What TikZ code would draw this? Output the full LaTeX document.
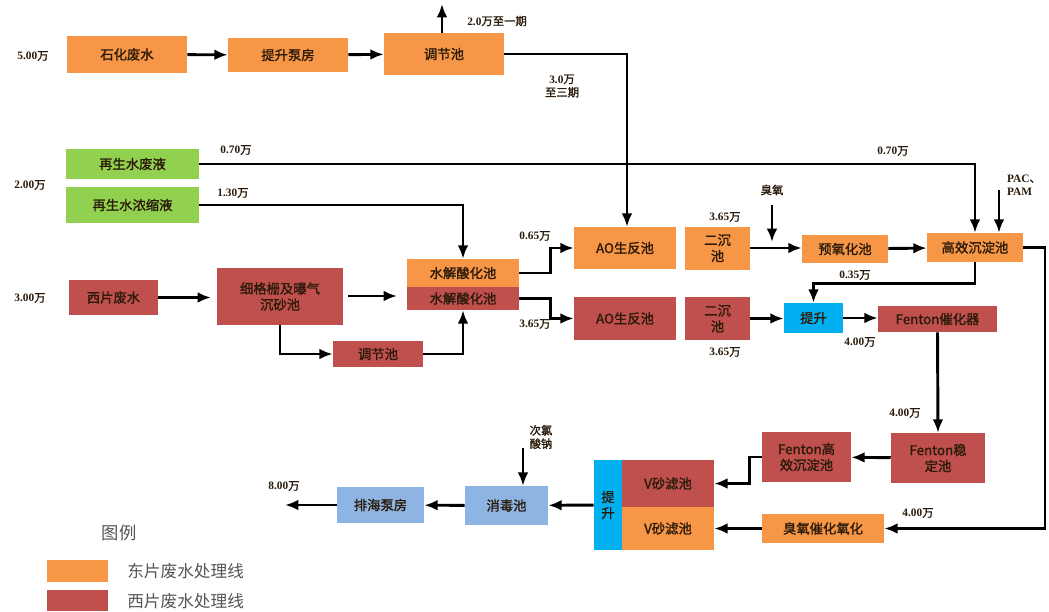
\documentclass[tikz,border=0pt]{standalone}
\usepackage{fontspec}
\setmainfont{Liberation Serif}
\newfontfamily\cjk[AutoFakeBold=1.4]{Noto Sans CJK SC}
\newfontfamily\cjkl{Noto Sans CJK SC}
\usetikzlibrary{arrows.meta,calc}
\definecolor{cor}{HTML}{F79646}
\definecolor{cre}{HTML}{C0504D}
\definecolor{cgr}{HTML}{92D050}
\definecolor{cbl}{HTML}{00B0F0}
\definecolor{clb}{HTML}{8DB4E2}
\definecolor{ctx}{HTML}{2A1A0A}
\definecolor{cgy}{HTML}{555555}
\newcommand\wan{{\cjk 万}}
\begin{document}
\begin{tikzpicture}[x=0.75pt,y=-0.75pt,
  box/.style={inner sep=0pt, font=\cjk\bfseries\fontsize{10}{12}\selectfont, text=ctx, align=center},
  sz/.style 2 args={minimum width=#1*0.75pt, minimum height=#2*0.75pt},
  ob/.style={box, fill=cor}, rb/.style={box, fill=cre}, gb/.style={box, fill=cgr},
  bb/.style={box, fill=cbl}, lb/.style={box, fill=clb},
  lab/.style={inner sep=0pt, font=\bfseries\fontsize{8.5}{10}\selectfont, text=ctx, align=center},
  leg/.style={inner sep=0pt, font=\cjkl\fontsize{12.5}{14}\selectfont, text=cgy, anchor=west},
  arr/.style={line width=2.2pt, -{Latex[length=10pt,width=8pt]}},
  ln/.style={line width=2.2pt}]
\useasboundingbox (0,0) rectangle (1049,611);

% ---- boxes ----
\node[ob, sz={120}{37}] (shihua) at (127,54.5) {石化废水};
\node[ob, sz={120}{34}] (tsbf) at (288,55) {提升泵房};
\node[ob, sz={120}{42}] (tjc) at (444,54) {调节池};
\node[gb, sz={133}{30}] (zs1) at (132.5,164) {再生水废液};
\node[gb, sz={133}{36}] (zs2) at (132.5,205) {再生水浓缩液};
\node[rb, sz={89}{35}] (xp) at (113.5,297.5) {西片废水};
\node[rb, sz={126}{57}] (xgs) at (280,296.5) {细格栅及曝气\\沉砂池};
\node[rb, sz={90}{26}] (tj2) at (378,354) {调节池};
\node[ob, sz={112}{28}] (sj1) at (463,273) {水解酸化池};
\node[rb, sz={112}{23}] (sj2) at (463,298.5) {水解酸化池};
\node[ob, sz={102}{42}] (ao1) at (625,248) {AO生反池};
\node[rb, sz={102}{43}] (ao2) at (625,318.5) {AO生反池};
\node[ob, sz={65}{43}] (ec1) at (717.5,248) {二沉\\池};
\node[rb, sz={65}{43}] (ec2) at (717.5,318.5) {二沉\\池};
\node[ob, sz={86}{28}] (yyh) at (845,249) {预氧化池};
\node[ob, sz={96}{29}] (gx) at (975,247.5) {高效沉淀池};
\node[bb, sz={59}{30}] (ts) at (813.5,318) {提升};
\node[rb, sz={119}{26}] (fc) at (937.5,319) {Fenton催化器};
\node[rb, sz={94}{50}] (fw) at (938,458) {Fenton稳\\定池};
\node[rb, sz={89}{50}] (fg) at (806.5,457) {Fenton高\\效沉淀池};
\node[rb, sz={92}{47}] (vr) at (668,483.5) {V砂滤池};
\node[ob, sz={92}{43}] (vo) at (668,528.5) {V砂滤池};
\node[bb, sz={28}{90}] (tsv) at (608,505) {提\\升};
\node[ob, sz={122}{29}] (cy) at (823,528.5) {臭氧催化氧化};
\node[lb, sz={83}{39}] (xd) at (506.5,505.5) {消毒池};
\node[lb, sz={87}{36}] (ph) at (380.5,505) {排海泵房};

% ---- labels ----
\node[lab] (l1) at (33,56) {5.00\wan};
\node[lab] (l2) at (497,21) {2.0\wan{\cjk 至一期}};
\node[lab] (l3) at (562,86) {3.0\wan\\{\cjk 至三期}};
\node[lab] (l4) at (30,185) {2.00\wan};
\node[lab] (l5) at (236,150) {0.70\wan};
\node[lab] (l6) at (233,193) {1.30\wan};
\node[lab] (l7) at (30,298) {3.00\wan};
\node[lab] (l8) at (535,236) {0.65\wan};
\node[lab] (l9) at (535,324) {3.65\wan};
\node[lab] (l10) at (725,217) {3.65\wan};
\node[lab] (l11) at (725,352) {3.65\wan};
\node[lab] (l12) at (893,151) {0.70\wan};
\node[lab] (l13) at (855,275) {0.35\wan};
\node[lab] (l14) at (860,342) {4.00\wan};
\node[lab] (l15) at (905,413) {4.00\wan};
\node[lab] (l16) at (918,513) {4.00\wan};
\node[lab] (l17) at (284,486) {8.00\wan};
\node[lab] (chy) at (772,190) {\cjk 臭氧};
\node[lab, align=left] (pac) at (1024,185) {PAC{\cjk 、}\\PAM};
\node[lab] (cl) at (541,437) {\cjk 次氯\\\cjk 酸钠};

% ---- free ends ----
\coordinate (up1) at (442,4);
\coordinate (g1) at (397,296);
\coordinate (g0) at (211,297.5);
\coordinate (chyend) at (772,242);
\coordinate (chys) at (772,205);
\coordinate (pacs) at (999,190);
\coordinate (rx) at (1045,0);
\coordinate (cls) at (523,448);
\coordinate (out) at (285,505);

% ---- connectors ----
\draw[arr] (shihua) -- (tsbf);
\draw[arr] (tsbf) -- (tjc);
\draw[arr] (tjc.north -| up1) -- (up1);
\draw[arr] (tjc.east) -| ($(ao1.north)+(2,0)$);
\draw[arr] (zs1.east) -| (gx.north);
\draw[arr] (zs2.east) -| (sj1.north);
\draw[arr] (xp) -- (g0);
\draw[arr] (xgs.east |- g1) ++(5,0) -- (g1);
\draw[arr] (xgs.south) |- (tj2.west);
\draw[arr] (tj2.east) -| (sj2.south);
\draw[arr] (sj1.east) -- ++(31,0) |- (ao1.west);
\draw[arr] (sj2.east) -- ++(31,0) |- (ao2.west);
\draw[arr] (ec1.east) -- (ec1.east -| yyh.west);
\draw[arr] (chys) -- (chyend);
\draw[arr] (yyh) -- (gx);
\draw[arr] (pacs) -- (pacs |- gx.north);
\draw[arr] (gx.south) -- ++(0,21) -| (ts.north);
\draw[arr] (gx.east) -- (gx.east -| rx) |- (cy.east);
\draw[arr] (ec2.east) -- (ec2.east -| ts.west);
\draw[arr] (ts.east) -- (ts.east -| fc.west);
\draw[arr] (fc.south) -- (fw.north);
\draw[arr] (fw) -- (fg);
\draw[arr] (fg.west) -- ++(-12,0) |- (vr.east);
\draw[arr] (cy) -- (vo);
\draw[arr] (tsv) -- (xd);
\draw[arr] (cls) -- (cls |- xd.north);
\draw[arr] (xd) -- (ph);
\draw[arr] (ph.west) -- (out);

% ---- legend ----
\node[inner sep=0pt, font=\cjkl\fontsize{13}{15}\selectfont, text=cgy] (lgt) at (119,533) {图例};
\node[fill=cor, inner sep=0pt, sz={61}{22}] (lg1) at (77.5,571) {};
\node[fill=cre, inner sep=0pt, sz={61}{21}] (lg2) at (77.5,600.5) {};
\node[leg] (lt1) at (127,571) {东片废水处理线};
\node[leg] (lt2) at (127,601) {西片废水处理线};
\end{tikzpicture}
\end{document}
